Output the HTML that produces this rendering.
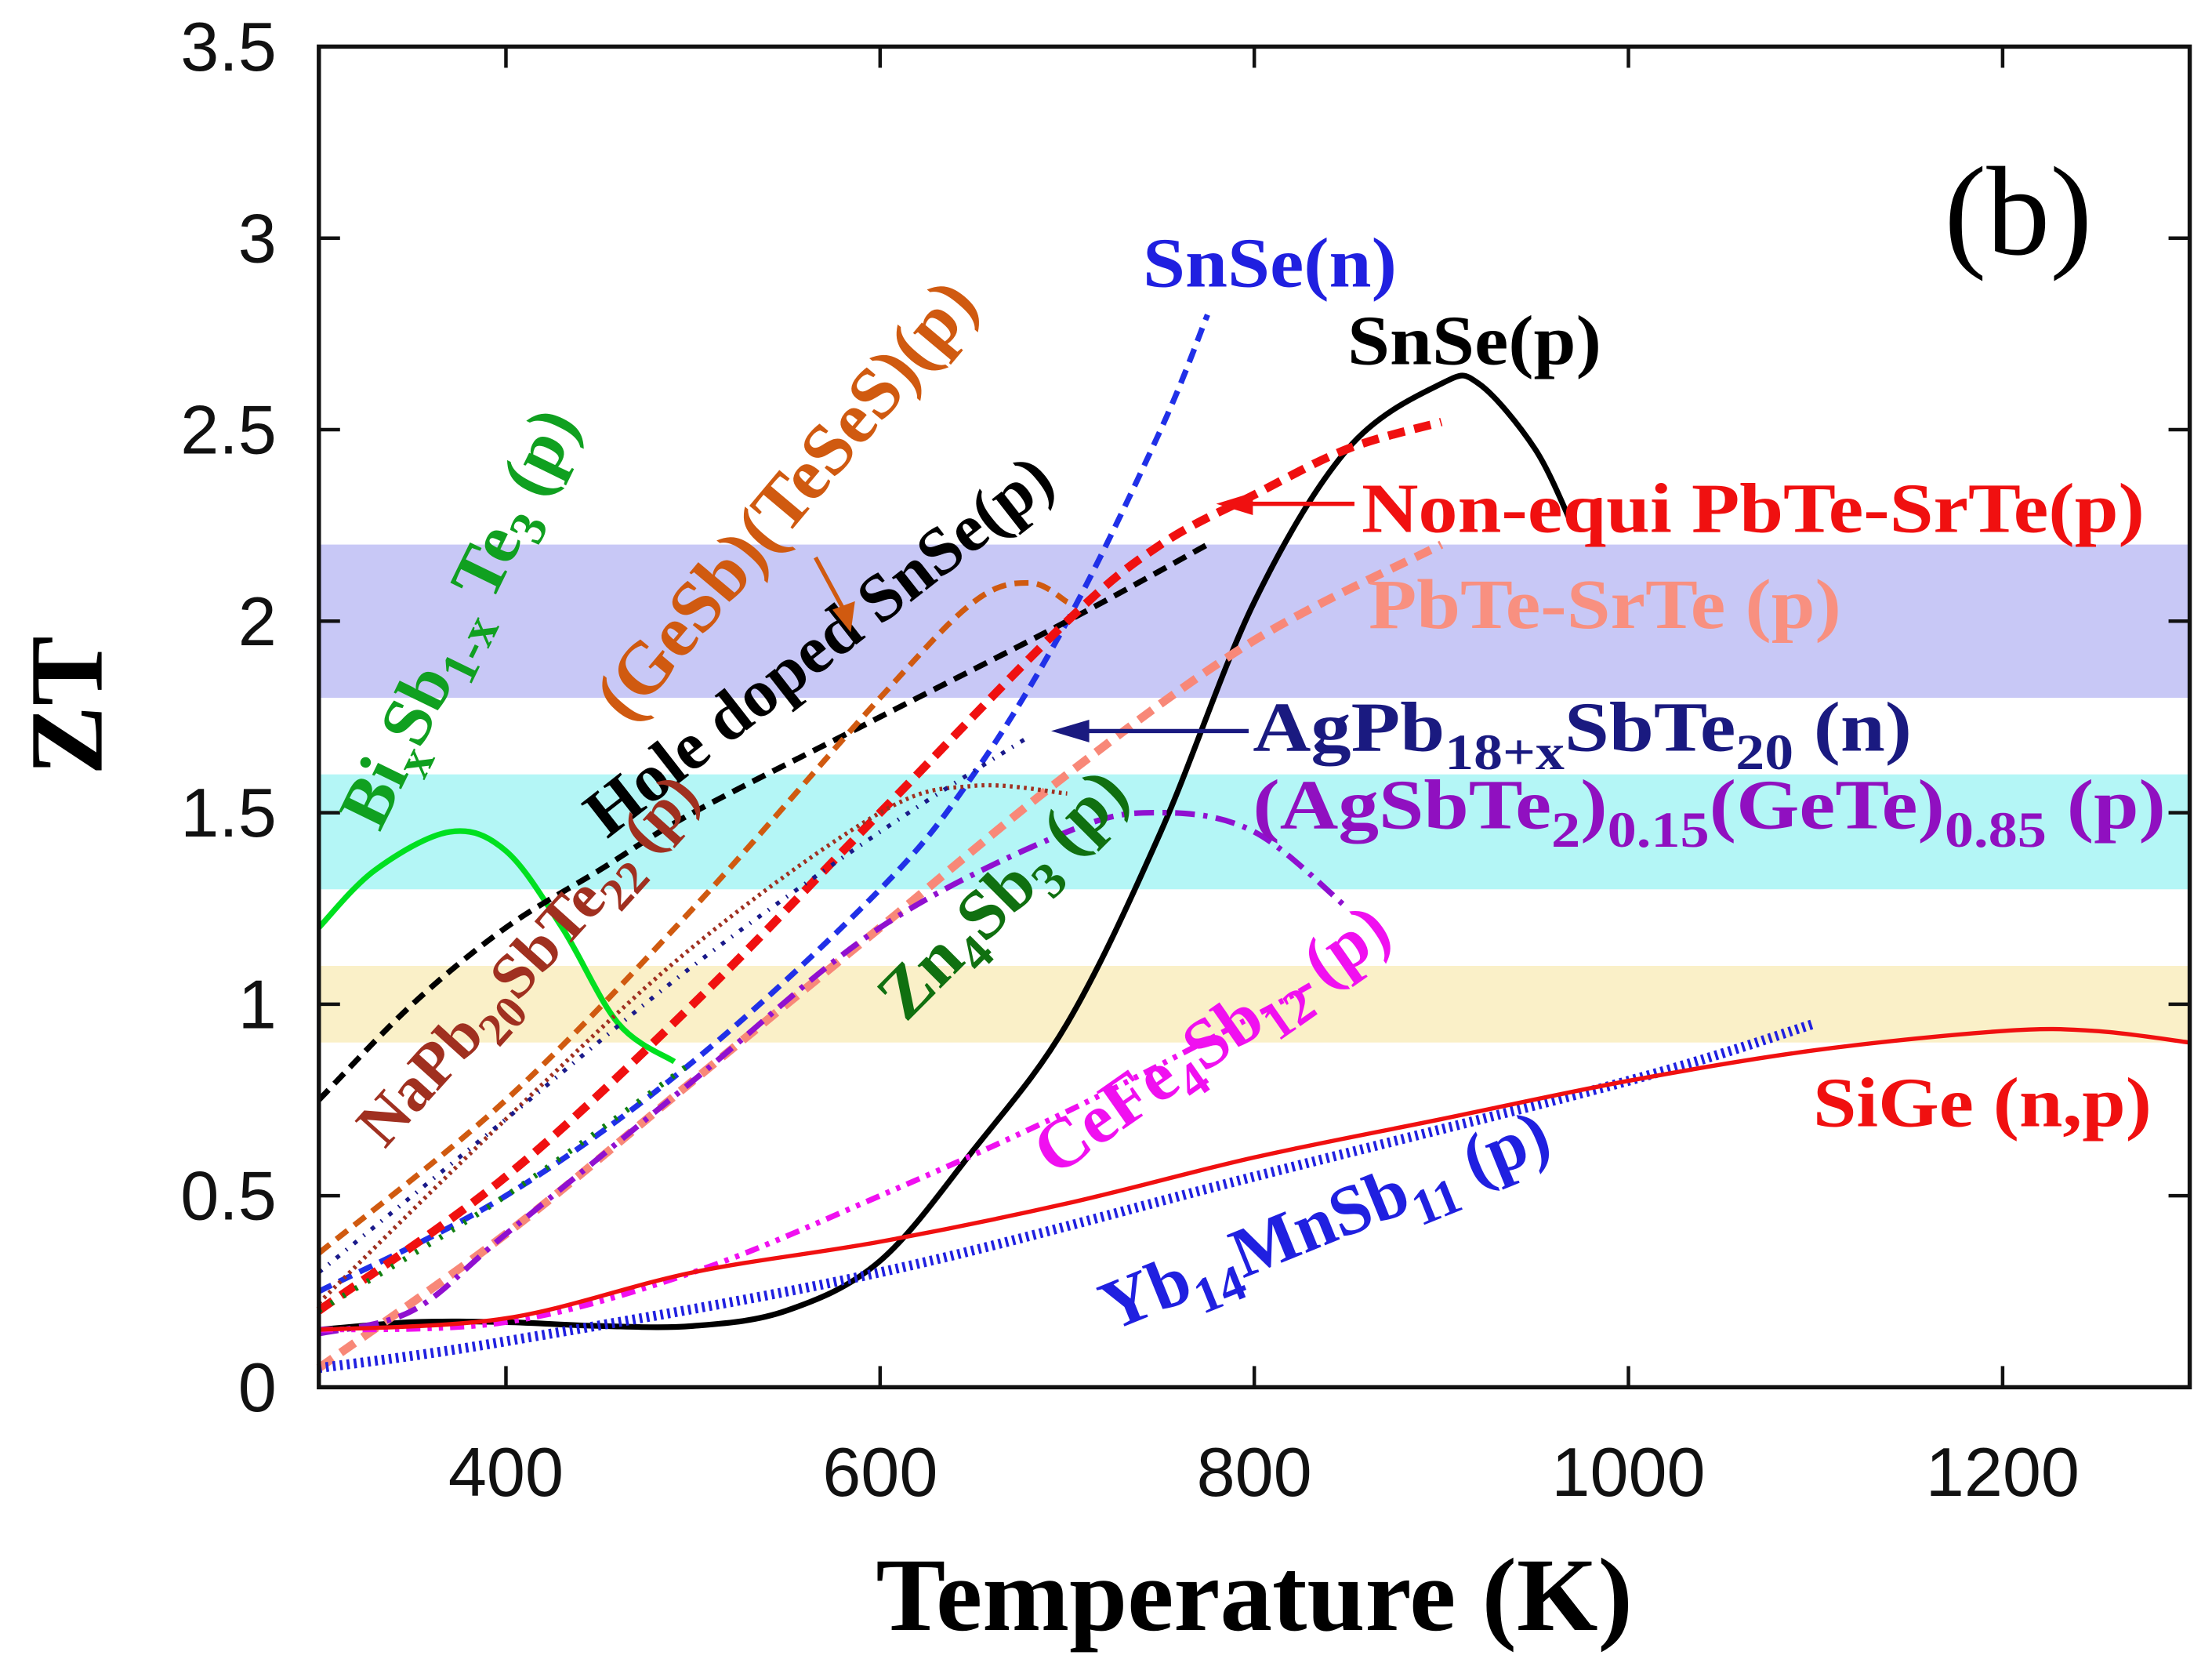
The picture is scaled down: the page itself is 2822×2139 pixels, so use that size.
<!DOCTYPE html>
<html><head><meta charset="utf-8"><style>
html,body{margin:0;padding:0;background:#fff}
svg{display:block}
.t{font-family:"Liberation Serif",serif;font-weight:bold}
.k{font-family:"Liberation Sans",sans-serif;font-size:49px;fill:#111}
</style></head><body>
<svg id="chart" width="2822" height="2139" viewBox="0 0 1567.8 1188.3" xmlns="http://www.w3.org/2000/svg">
<g id="bands"></g>
<g id="series"></g>
<g id="axes"></g>
<g id="labels">
<text class="t" x="810" y="203" font-size="50" textLength="180" lengthAdjust="spacingAndGlyphs" fill="#2020e0">SnSe(n)</text>
<text class="t" x="955" y="258" font-size="50" textLength="180" lengthAdjust="spacingAndGlyphs" fill="#000">SnSe(p)</text>
<text class="t" x="965" y="377" font-size="50" textLength="555" lengthAdjust="spacingAndGlyphs" fill="#f01010">Non-equi PbTe-SrTe(p)</text>
<text class="t" x="970" y="445" font-size="50" textLength="335" lengthAdjust="spacingAndGlyphs" fill="#f89080">PbTe-SrTe (p)</text>
<text class="t" x="888" y="532" font-size="50" textLength="467" lengthAdjust="spacingAndGlyphs" fill="#1a1a80">AgPb<tspan dy="13" font-size="36">18+x</tspan><tspan dy="-13">SbTe</tspan><tspan dy="13" font-size="36">20</tspan><tspan dy="-13"> (n)</tspan></text>
<text class="t" x="888" y="587" font-size="50" textLength="647" lengthAdjust="spacingAndGlyphs" fill="#9010c0">(AgSbTe<tspan dy="13" font-size="36">2</tspan><tspan dy="-13">)</tspan><tspan dy="13" font-size="36">0.15</tspan><tspan dy="-13">(GeTe)</tspan><tspan dy="13" font-size="36">0.85</tspan><tspan dy="-13"> (p)</tspan></text>
<text class="t" x="1285" y="798" font-size="50" textLength="240" lengthAdjust="spacingAndGlyphs" fill="#f01010">SiGe (n,p)</text>
<text x="1378" y="180" font-size="90" font-family="Liberation Serif, serif" fill="#000">(b)</text>
<text class="t" transform="translate(340,445) rotate(-64)" text-anchor="middle" font-size="50" fill="#10a020">Bi<tspan dy="12" font-size="36">x</tspan><tspan dy="-12">Sb</tspan><tspan dy="12" font-size="36">1-x</tspan><tspan dy="-12"> Te</tspan><tspan dy="12" font-size="36">3</tspan><tspan dy="-12"> (p)</tspan></text>
<text class="t" transform="translate(570,365) rotate(-50)" text-anchor="middle" font-size="52" fill="#d05a10">(GeSb)(TeSeS)(p)</text>
<text class="t" transform="translate(590,470) rotate(-38)" text-anchor="middle" font-size="48" fill="#000">Hole doped SnSe(p)</text>
<text class="t" transform="translate(385,690) rotate(-48)" text-anchor="middle" font-size="45" fill="#a03020">NaPb<tspan dy="12" font-size="33">20</tspan><tspan dy="-12">SbTe</tspan><tspan dy="12" font-size="33">22</tspan><tspan dy="-12"> (p)</tspan></text>
<text class="t" transform="translate(722,645) rotate(-45)" text-anchor="middle" font-size="50" fill="#107010">Zn<tspan dy="12" font-size="36">4</tspan><tspan dy="-12">Sb</tspan><tspan dy="12" font-size="36">3</tspan><tspan dy="-12"> (p)</tspan></text>
<text class="t" transform="translate(868,750) rotate(-35)" text-anchor="middle" font-size="50" fill="#f010f0">CeFe<tspan dy="12" font-size="36">4</tspan><tspan dy="-12">Sb</tspan><tspan dy="12" font-size="36">12</tspan><tspan dy="-12"> (p)</tspan></text>
<text class="t" transform="translate(945,880) rotate(-22)" text-anchor="middle" font-size="50" fill="#2020e0">Yb<tspan dy="13" font-size="36">14</tspan><tspan dy="-13">MnSb</tspan><tspan dy="13" font-size="36">11</tspan><tspan dy="-13"> (p)</tspan></text>
<line x1="960" y1="357" x2="880" y2="357" stroke="#f01010" stroke-width="3"/>
<polygon points="862,357 888,349 888,365" fill="#f01010"/>
<line x1="885" y1="518" x2="765" y2="518" stroke="#1a1a80" stroke-width="3"/>
<polygon points="745,518 772,510 772,526" fill="#1a1a80"/>
<line x1="578" y1="395" x2="598" y2="432" stroke="#d05a10" stroke-width="3"/>
<polygon points="603,448 590,432 606,426" fill="#d05a10"/>
<text class="t" x="889" y="1155" text-anchor="middle" font-size="74" fill="#000">Temperature (K)</text>
<text class="t" transform="translate(72,500) rotate(-90)" text-anchor="middle" font-size="74" fill="#000">ZT</text>
</g>
</svg>
<script>
const xTicks=[400,600,800,1000,1200];
const yTicks=[0,0.5,1,1.5,2,2.5,3,3.5];
const yTickLabels=["0","0.5","1","1.5","2","2.5","3","3.5"];
const bandLo=[1.8,1.3,0.9];
const bandHi=[2.2,1.6,1.1];
const bandColors=["#c8c8f6","#b4f6f6","#faf0c8"];
const bandNames=["band-high","band-mid","band-low"];
const seriesNames=["bisbte","snse-p","snse-n","hole-doped-snse","gesb-teses","nonequi-pbte-srte","pbte-srte","napbsbte","agpbsbte","zn4sb3","agsbte2-gete","cefe4sb12","yb14mnsb11","sige"];
const seriesT=[
[300,330,370,400,430,460,490],
[300,350,400,450,500,550,600,650,700,750,800,850,900,920,950,970],
[300,400,500,600,650,700,750,775],
[300,350,400,450,500,600,700,775],
[300,400,500,600,650,680,700],
[300,400,500,600,700,750,800,850,900],
[300,400,500,600,700,800,900],
[300,400,500,600,650,700],
[300,400,500,600,680],
[300,400,500],
[300,350,400,500,600,700,750,800,850],
[300,400,500,600,700,800,830],
[300,400,600,800,1000,1100],
[300,400,500,600,700,800,900,1000,1100,1200,1250,1300]];
const seriesZT=[
[1.2,1.35,1.45,1.4,1.2,0.95,0.85],
[0.15,0.17,0.17,0.16,0.16,0.2,0.33,0.62,0.95,1.45,2.05,2.45,2.62,2.62,2.45,2.25],
[0.25,0.5,0.85,1.3,1.6,2.0,2.5,2.8],
[0.75,1.0,1.2,1.35,1.5,1.75,2.0,2.2],
[0.35,0.75,1.25,1.8,2.05,2.1,2.05],
[0.2,0.55,1.0,1.5,2.0,2.2,2.33,2.45,2.52],
[0.05,0.4,0.8,1.2,1.6,1.95,2.2],
[0.22,0.7,1.15,1.5,1.57,1.55],
[0.3,0.7,1.1,1.45,1.7],
[0.2,0.5,0.85],
[0.14,0.2,0.4,0.8,1.2,1.45,1.5,1.45,1.25],
[0.15,0.17,0.3,0.5,0.72,0.97,1.05],
[0.05,0.12,0.3,0.55,0.8,0.95],
[0.15,0.18,0.3,0.38,0.48,0.6,0.7,0.8,0.88,0.93,0.93,0.9]];
const seriesColor=["#00e020","#000","#2030e8","#000","#d05a10","#f01010","#f88878","#a03020","#1a1a8a","#108010","#9010d0","#f010f0","#2020e0","#f01010"];
const seriesWidth=[4,4,4,4,4,6,6,3,3,4,4,4,7,3];
const seriesDash=["","","10,6","10,6","10,6","12,7","12,7","2,3","3,6,1,6","2,8","14,6,3,6","10,5,3,5,3,5","2,3",""];
const NS="http://www.w3.org/2000/svg";
const L=226,R=1552,T=33,B=983;
const x=v=>L+(v-300)/1000*(R-L);
const y=v=>B-v/3.5*(B-T);
function mk(tag,a,p){const e=document.createElementNS(NS,tag);for(const k in a)e.setAttribute(k,a[k]);p.appendChild(e);return e;}
const bands=document.getElementById('bands');
for(let i=0;i<bandLo.length;i++){
 const r=mk('rect',{x:L,y:y(bandHi[i]),width:R-L,height:y(bandLo[i])-y(bandHi[i]),fill:bandColors[i]},bands);
 
 
}
function smooth(pts){
 let d=`M${pts[0][0]},${pts[0][1]}`;
 for(let i=0;i<pts.length-1;i++){
  const p0=pts[Math.max(i-1,0)],p1=pts[i],p2=pts[i+1],p3=pts[Math.min(i+2,pts.length-1)];
  d+=` C${p1[0]+(p2[0]-p0[0])/6},${p1[1]+(p2[1]-p0[1])/6} ${p2[0]-(p3[0]-p1[0])/6},${p2[1]-(p3[1]-p1[1])/6} ${p2[0]},${p2[1]}`;
 }
 return d;
}
const sg=document.getElementById('series');
for(let i=0;i<seriesNames.length;i++){
 const pts=seriesT[i].map((t,j)=>[x(t),y(seriesZT[i][j])]);
 const p=mk('path',{d:smooth(pts),fill:'none',stroke:seriesColor[i],'stroke-width':seriesWidth[i]},sg);
 if(seriesDash[i])p.setAttribute('stroke-dasharray',seriesDash[i]);
 
 
}
const ax=document.getElementById('axes');
const fr=mk('rect',{x:L,y:T,width:R-L,height:B-T,fill:'none',stroke:'#111','stroke-width':3},ax);


xTicks.forEach(v=>{
 mk('line',{x1:x(v),x2:x(v),y1:B,y2:B-15,stroke:'#111','stroke-width':2.5},ax);
 mk('line',{x1:x(v),x2:x(v),y1:T,y2:T+15,stroke:'#111','stroke-width':2.5},ax);
 const t=mk('text',{x:x(v),y:1060,'text-anchor':'middle',class:'k'},ax);
 t.textContent=v;
 
 
});
yTicks.forEach((v,i)=>{
 mk('line',{x1:L,x2:L+15,y1:y(v),y2:y(v),stroke:'#111','stroke-width':2.5},ax);
 mk('line',{x1:R,x2:R-15,y1:y(v),y2:y(v),stroke:'#111','stroke-width':2.5},ax);
 const t=mk('text',{x:196,y:y(v)+17,'text-anchor':'end',class:'k'},ax);
 t.textContent=yTickLabels[i];
 
 
});
</script>
</body></html>
